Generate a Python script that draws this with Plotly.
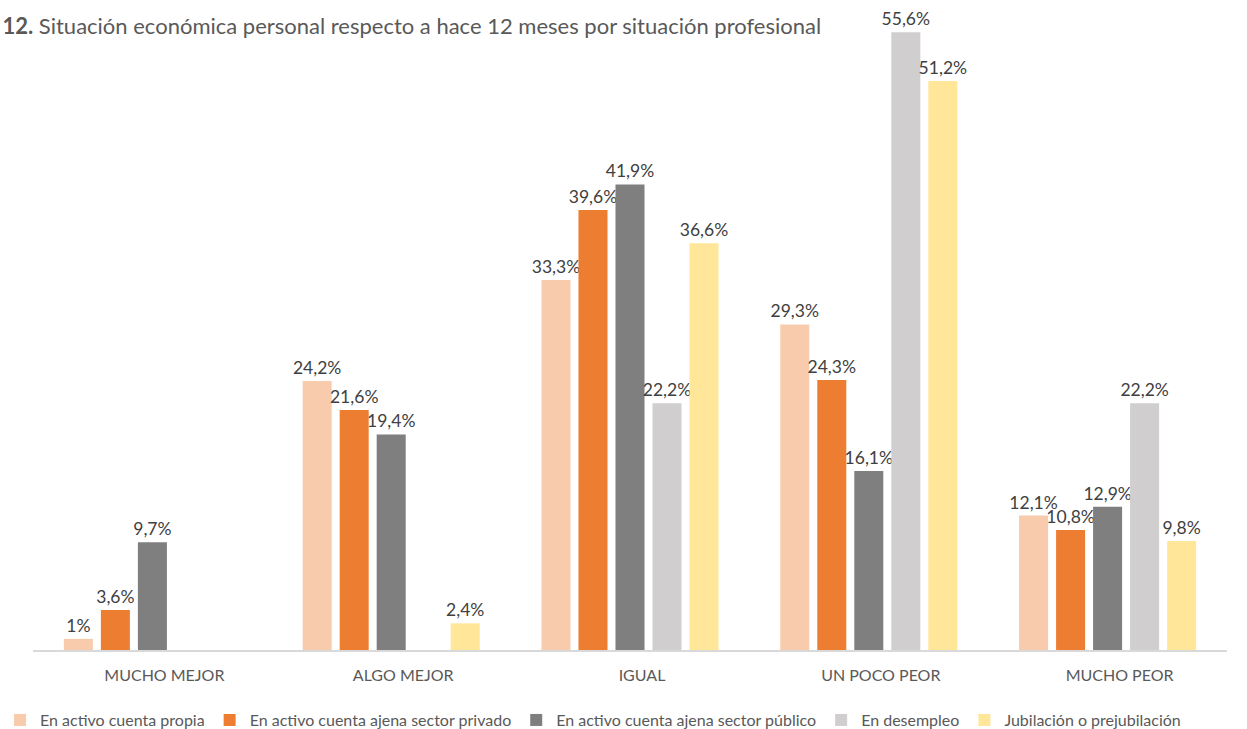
import plotly.graph_objects as go

# Categories and series (percentages)
categories = ["MUCHO MEJOR", "ALGO MEJOR", "IGUAL", "UN POCO PEOR", "MUCHO PEOR"]
series_names = [
    "En activo cuenta propia",
    "En activo cuenta ajena sector privado",
    "En activo cuenta ajena sector público",
    "En desempleo",
    "Jubilación o prejubilación",
]
cuenta_propia = [1.0, 24.2, 33.3, 29.3, 12.1]
ajena_privado = [3.6, 21.6, 39.6, 24.3, 10.8]
ajena_publico = [9.7, 19.4, 41.9, 16.1, 12.9]
desempleo = [None, None, 22.2, 55.6, 22.2]
jubilacion = [None, 2.4, 36.6, 51.2, 9.8]

series_values = [cuenta_propia, ajena_privado, ajena_publico, desempleo, jubilacion]
colors = ["#F8CBAD", "#ED7D31", "#7F7F7F", "#D0CECE", "#FFE699"]

FONT = "Lato"


def fmt(v):
    if v is None:
        return ""
    return f"{v:g}".replace(".", ",") + "%"


fig = go.Figure()
for name, vals, col in zip(series_names, series_values, colors):
    fig.add_trace(go.Bar(
        name=name,
        x=categories,
        y=vals,
        marker=dict(color=col, line=dict(width=0)),
        text=[fmt(v) for v in vals],
        textposition="outside",
        textfont=dict(family=FONT, size=17.5, color="#404040"),
        constraintext="none",
        cliponaxis=False,
        hoverinfo="skip",
    ))

fig.update_layout(
    width=1247,
    height=729,
    paper_bgcolor="white",
    plot_bgcolor="white",
    margin=dict(l=33, r=20, t=30, b=79, autoexpand=False),
    barmode="group",
    bargap=0.225,
    bargroupgap=0.216,
    font=dict(family=FONT, color="#595959"),
    title=dict(
        text="<b>12.</b> Situación económica personal respecto a hace 12 meses por situación profesional",
        x=0.002, xanchor="left", xref="container",
        y=1 - 26 / 729, yanchor="middle", yref="container",
        font=dict(family=FONT, size=22, color="#595959"),
    ),
    xaxis=dict(
        showgrid=False,
        showline=True,
        linecolor="#D9D9D9",
        linewidth=1.5,
        ticks="",
        tickfont=dict(family=FONT, size=16, color="#595959"),
        ticklabelshift=12,
        ticklabelstandoff=10,
    ),
    yaxis=dict(
        range=[0, 55.8],
        visible=False,
        showgrid=False,
        zeroline=False,
    ),
    legend=dict(
        orientation="h",
        x=-0.0276, xanchor="left",
        y=-0.113, yanchor="middle",
        font=dict(family=FONT, size=16, color="#595959"),
        itemwidth=30,
        traceorder="normal",
    ),
    showlegend=True,
)

fig.write_html("out.html")
